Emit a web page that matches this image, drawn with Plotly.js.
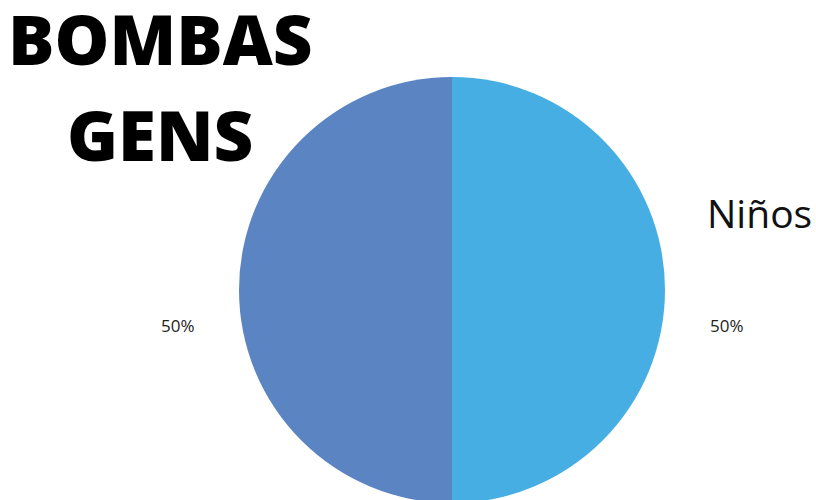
<!DOCTYPE html>
<html>
<head>
<meta charset="utf-8">
<script src="https://cdn.plot.ly/plotly-3.0.1.min.js"></script>
<style>
html,body{margin:0;padding:0;overflow:hidden;background:#fff;}
#chart{width:816px;height:504px;}
</style>
</head>
<body>
<div id="chart"></div>
<script>
// Data
const labels = ["Niños", "Niñas"];
const values = [50, 50];
const colors = ["#46AEE2", "#5B84C3"];
const titleLines = ["BOMBAS", "GENS"];

const total = values.reduce((a, b) => a + b, 0);
const pcts = values.map(v => Math.round(v / total * 100) + "%");

const W = 816, H = 504;

const trace = {
  type: "pie",
  labels: labels,
  values: values,
  sort: false,
  direction: "clockwise",
  rotation: 0,
  marker: {colors: colors, line: {width: 0}},
  textinfo: "none",
  hoverinfo: "label+percent",
  showlegend: false,
  domain: {x: [239 / W, 665 / W], y: [1 / H, (H - 77) / H]}
};

const titleFont = {family: "Open Sans", size: 69, color: "#000", weight: 800};
const titleY = [38, 134];

const annotations = titleLines.map((t, i) => ({
  text: t, x: 160 / W, y: 1 - titleY[i] / H, xref: "paper", yref: "paper",
  showarrow: false, xanchor: "center", yanchor: "middle", font: titleFont
})).concat([
  {text: pcts[0], x: 727 / W, y: 1 - 325 / H, xref: "paper", yref: "paper",
   showarrow: false, xanchor: "center", yanchor: "middle",
   font: {family: "Open Sans", size: 17, color: "#222"}},
  {text: pcts[1], x: 178 / W, y: 1 - 325 / H, xref: "paper", yref: "paper",
   showarrow: false, xanchor: "center", yanchor: "middle",
   font: {family: "Open Sans", size: 17, color: "#222"}},
  {text: labels[0], x: 705 / W, y: 1 - 212 / H, xref: "paper", yref: "paper",
   showarrow: false, xanchor: "left", yanchor: "middle",
   font: {family: "Open Sans", size: 39, color: "#111"}}
]);

const layout = {
  width: W, height: H,
  margin: {l: 0, r: 0, t: 0, b: 0},
  paper_bgcolor: "#fff",
  annotations: annotations
};

Plotly.newPlot("chart", [trace], layout, {displayModeBar: false, staticPlot: true});
</script>
</body>
</html>
